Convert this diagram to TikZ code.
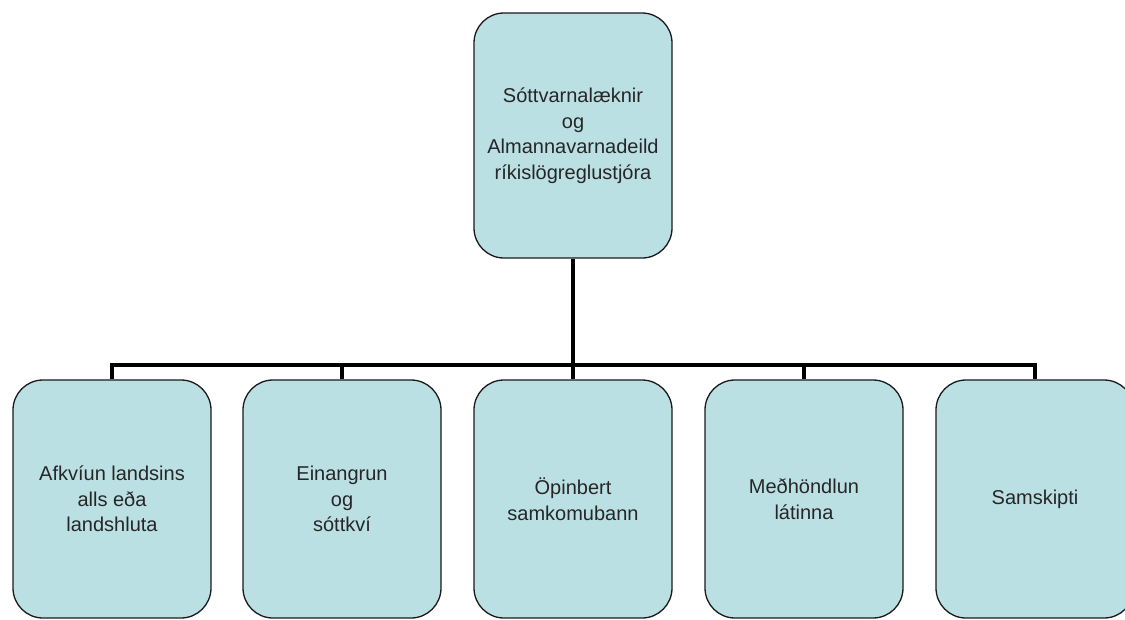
\documentclass[tikz,border=0pt]{standalone}
\usepackage{fontspec}
\setmainfont{Liberation Sans}
\definecolor{boxfill}{HTML}{BBE0E3}
\definecolor{boxline}{HTML}{1A1A1A}
\tikzset{
  orgbox/.style={draw=boxline, line width=1.3pt, fill=boxfill, rounded corners=30pt,
    minimum width=198pt, inner sep=0pt, align=center, text=black!85,
    font=\fontsize{20pt}{25.5pt}\selectfont},
  topbox/.style={orgbox, minimum height=245pt},
  lowbox/.style={orgbox, minimum height=238pt},
  conn/.style={line width=4.5pt, draw=black}
}
\begin{document}
\begin{tikzpicture}[x=1pt,y=-1pt]
\useasboundingbox (0,0) rectangle (1125,619);
\node[topbox] (top) at (573,135.5) {Sóttvarnalæknir\\og\\Almannavarnadeild\\ríkislögreglustjóra};
\node[lowbox] (b1) at (112,499) {Afkvíun landsins\\alls eða\\landshluta};
\node[lowbox] (b2) at (342,499) {Einangrun\\og\\sóttkví};
\node[lowbox] (b3) at (573,499) {Öpinbert\\samkomubann};
\node[lowbox] (b4) at (804,499) {Meðhöndlun\\látinna};
\node[lowbox] (b5) at (1035,499) {Samskipti};
\coordinate (bus) at (573,365);
\draw[conn] (top.south) -- (bus);
\draw[conn] (b1.north) |- (bus);
\draw[conn] (b2.north) |- (bus);
\draw[conn] (b3.north) -- (bus);
\draw[conn] (b4.north) |- (bus);
\draw[conn] (b5.north) |- (bus);
\end{tikzpicture}
\end{document}
